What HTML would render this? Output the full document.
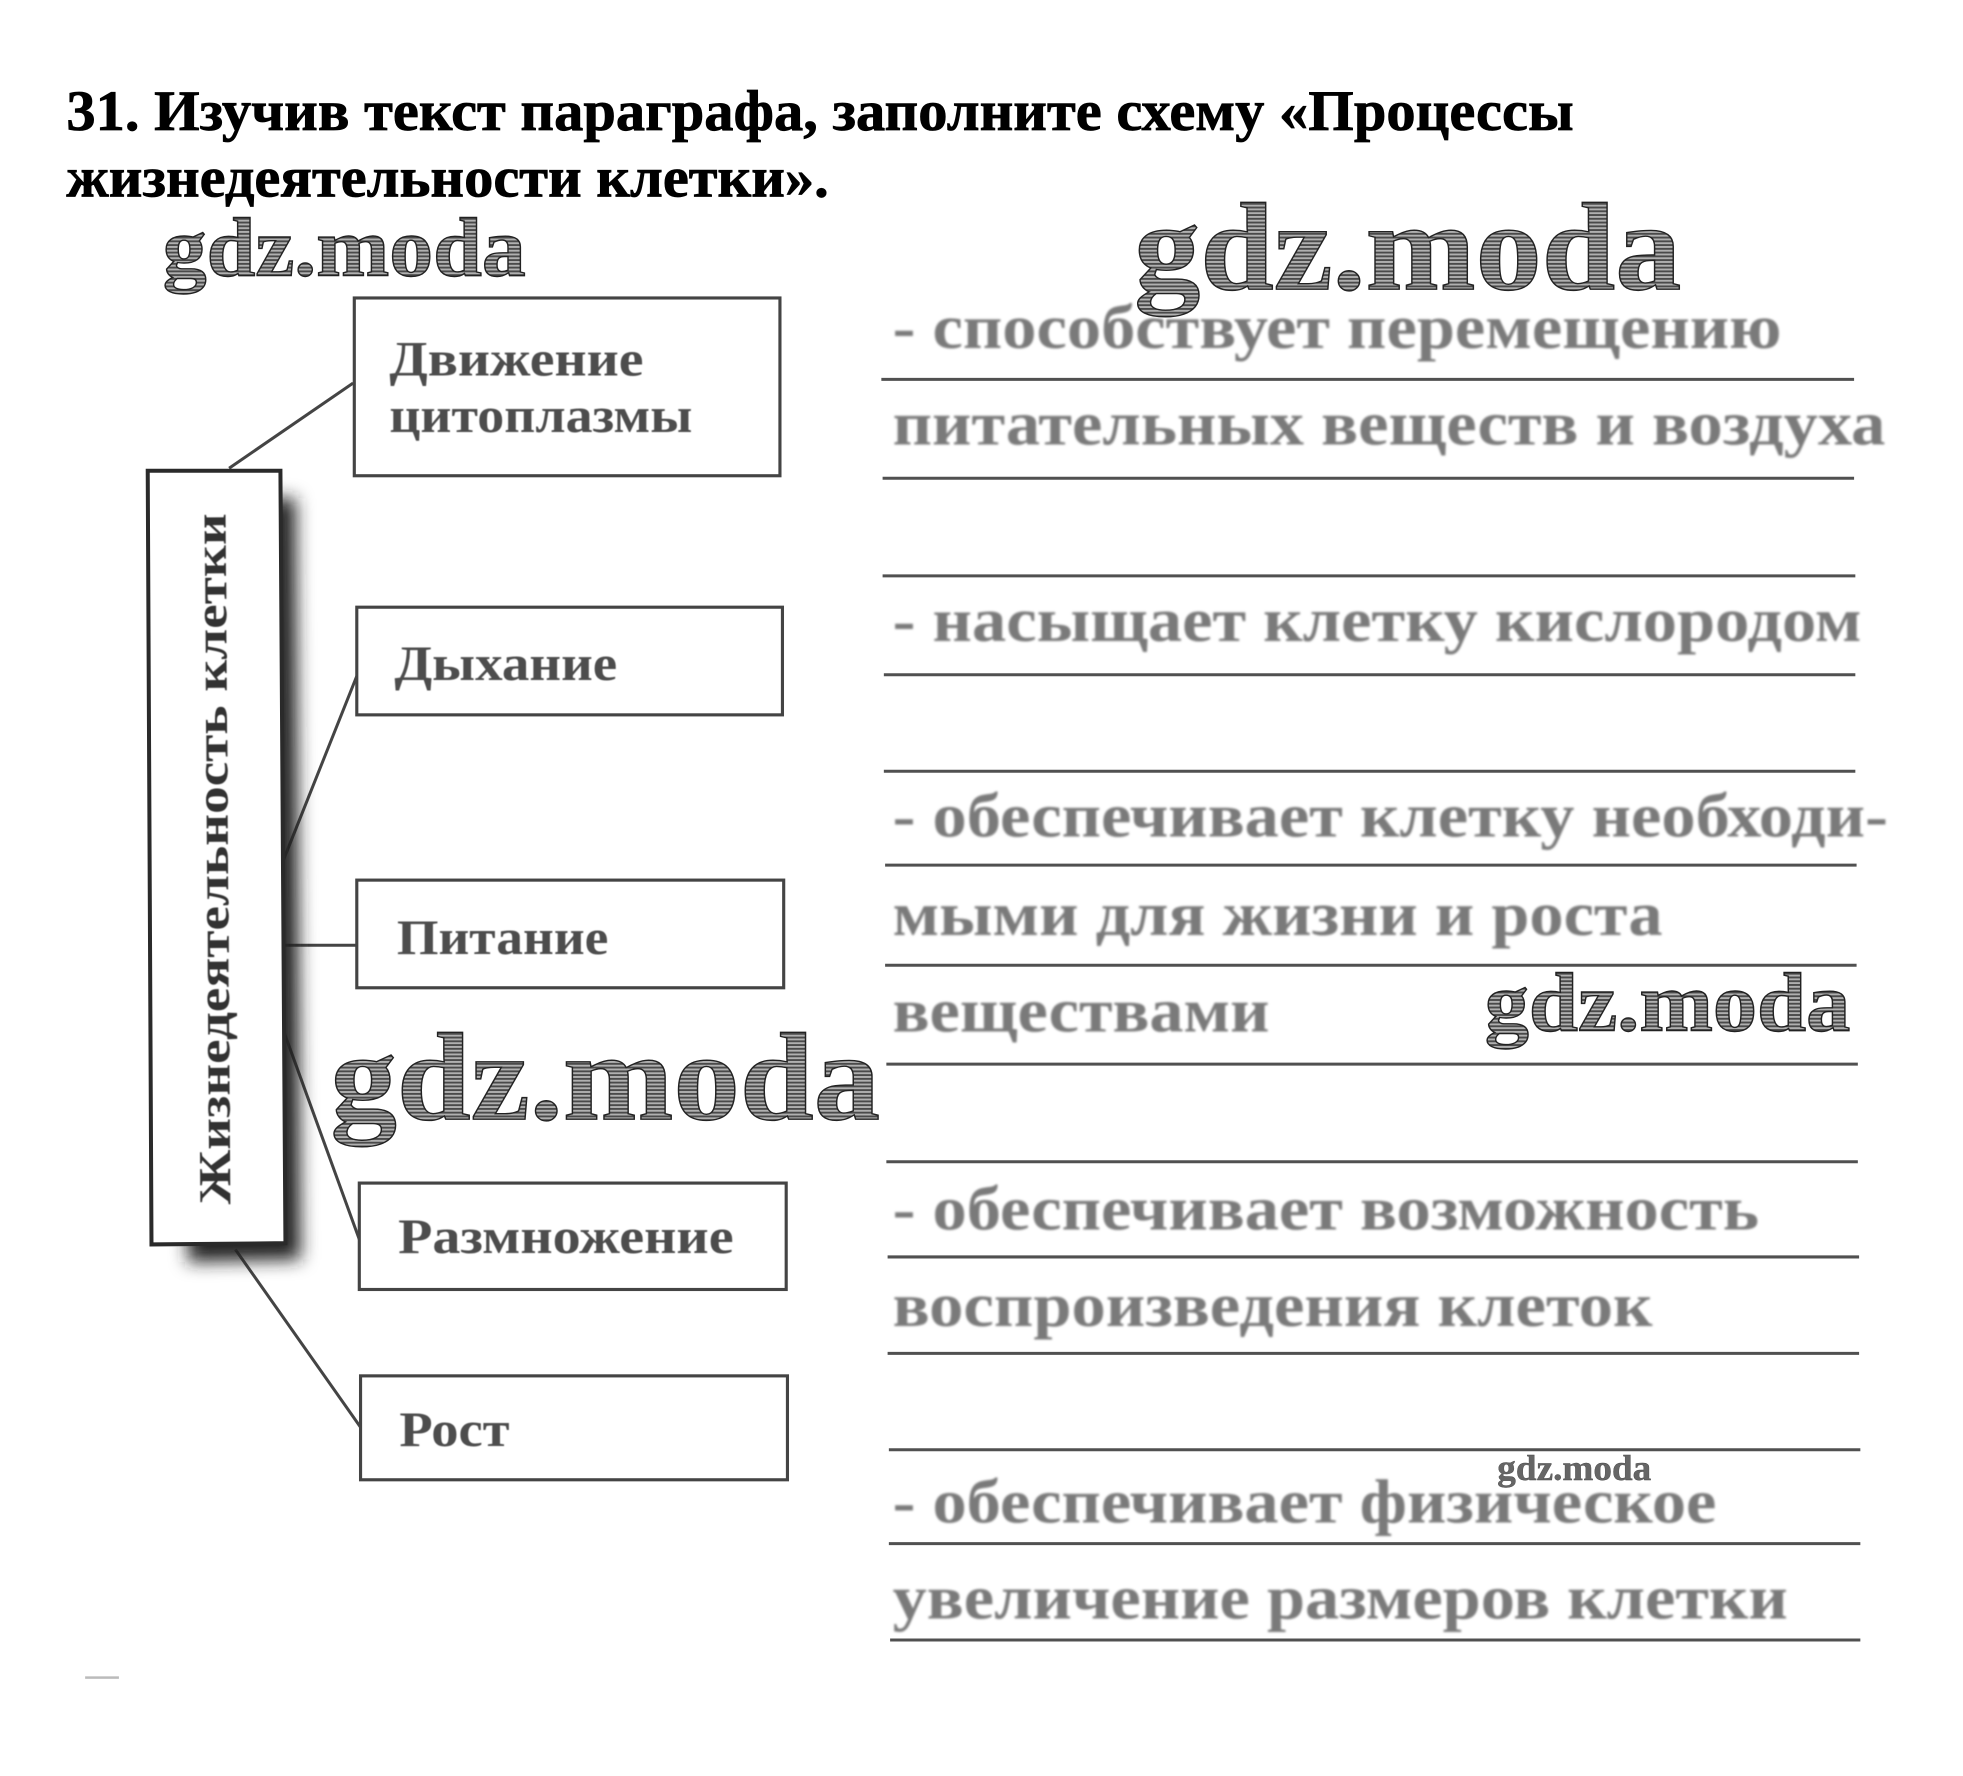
<!DOCTYPE html>
<html lang="ru">
<head>
<meta charset="utf-8">
<title>Процессы жизнедеятельности клетки</title>
<style>
html,body{margin:0;padding:0;background:#fff;width:1963px;height:1776px;overflow:hidden}
svg{display:block}
text{font-family:"Liberation Serif","DejaVu Serif",serif;font-weight:bold}
.t{fill:#000;stroke:#000;stroke-width:.6;font-size:46px}
.g{fill:#7a7a7a;font-size:50px}
.l{fill:#4d4d4d;font-size:40px}
.w{fill:url(#hatch);stroke:#222;stroke-width:1.1}
.rule{stroke:#505050;stroke-width:2.4}
.box{fill:#fff;stroke:#444;stroke-width:2.5}
.con{stroke:#444;stroke-width:2.4;fill:none}
</style>
</head>
<body>
<svg xmlns="http://www.w3.org/2000/svg" width="1963" height="1776" viewBox="0 0 1568 1418.6">
<defs>
<pattern id="hatch" width="4" height="3" patternUnits="userSpaceOnUse">
<rect width="4" height="3" fill="#b0b0b0"/>
<rect width="4" height="1.5" fill="#4a4a4a"/>
</pattern>
<filter id="b1" x="-5%" y="-20%" width="110%" height="140%"><feGaussianBlur stdDeviation="0.8"/></filter>
<filter id="b2" x="-5%" y="-20%" width="110%" height="140%"><feGaussianBlur stdDeviation="0.5"/></filter>
<filter id="sh" x="-50%" y="-10%" width="200%" height="120%"><feGaussianBlur stdDeviation="7"/></filter>
</defs>

<rect width="1568" height="1418.6" fill="#fff"/>

<!-- Title -->
<text class="t" x="53" y="104" textLength="1204" lengthAdjust="spacingAndGlyphs">31. Изучив текст параграфа, заполните схему «Процессы</text>
<text class="t" x="53" y="157" textLength="609" lengthAdjust="spacingAndGlyphs">жизнедеятельности клетки».</text>

<!-- Connectors -->
<g class="con">
<line x1="183" y1="374" x2="282" y2="306"/>
<line x1="226" y1="688" x2="285" y2="540"/>
<line x1="228" y1="755" x2="285" y2="755"/>
<line x1="226" y1="822" x2="287" y2="990"/>
<line x1="188" y1="998" x2="288" y2="1140"/>
</g>

<!-- Main box -->
<polygon points="150,398 236,398 240,1006 150,1008" fill="#222" filter="url(#sh)"/>
<polygon points="118,376 224,376 228,993 121,994" fill="#fff" stroke="#2a2a2a" stroke-width="3.2"/>
<text transform="translate(184,962) rotate(-90.4)" font-size="36" fill="#333" textLength="552" lengthAdjust="spacingAndGlyphs" filter="url(#b2)">Жизнедеятельность клетки</text>

<!-- Process boxes -->
<rect class="box" x="283" y="238" width="340" height="142"/>
<rect class="box" x="285" y="485" width="340" height="86"/>
<rect class="box" x="285" y="703" width="341" height="86"/>
<rect class="box" x="287" y="945" width="341" height="85"/>
<rect class="box" x="288" y="1099" width="341" height="83"/>

<g filter="url(#b2)">
<text class="l" x="311" y="300" textLength="203" lengthAdjust="spacingAndGlyphs">Движение</text>
<text class="l" x="311" y="345" textLength="242" lengthAdjust="spacingAndGlyphs">цитоплазмы</text>
<text class="l" x="315" y="543" textLength="178" lengthAdjust="spacingAndGlyphs">Дыхание</text>
<text class="l" x="317" y="762" textLength="169" lengthAdjust="spacingAndGlyphs">Питание</text>
<text class="l" x="318" y="1001" textLength="268" lengthAdjust="spacingAndGlyphs">Размножение</text>
<text class="l" x="319" y="1155" textLength="88" lengthAdjust="spacingAndGlyphs">Рост</text>
</g>

<!-- Rules -->
<g class="rule">
<line x1="704" y1="303" x2="1481" y2="303"/>
<line x1="705" y1="382" x2="1481" y2="382"/>
<line x1="705" y1="460" x2="1482" y2="460"/>
<line x1="706" y1="539" x2="1482" y2="539"/>
<line x1="706" y1="616" x2="1482" y2="616"/>
<line x1="707" y1="691" x2="1483" y2="691"/>
<line x1="707" y1="771" x2="1483" y2="771"/>
<line x1="708" y1="850" x2="1484" y2="850"/>
<line x1="708" y1="928" x2="1484" y2="928"/>
<line x1="709" y1="1004" x2="1485" y2="1004"/>
<line x1="709" y1="1081" x2="1485" y2="1081"/>
<line x1="710" y1="1158" x2="1486" y2="1158"/>
<line x1="710" y1="1233" x2="1486" y2="1233"/>
<line x1="711" y1="1310" x2="1486" y2="1310"/>
</g>

<!-- Answers -->
<g filter="url(#b1)">
<text class="g" x="713" y="278" textLength="710" lengthAdjust="spacingAndGlyphs">- способствует перемещению</text>
<text class="g" x="713" y="355" textLength="793" lengthAdjust="spacingAndGlyphs">питательных веществ и воздуха</text>
<text class="g" x="713" y="512" textLength="774" lengthAdjust="spacingAndGlyphs">- насыщает клетку кислородом</text>
<text class="g" x="713" y="668" textLength="795" lengthAdjust="spacingAndGlyphs">- обеспечивает клетку необходи-</text>
<text class="g" x="713" y="747" textLength="615" lengthAdjust="spacingAndGlyphs">мыми для жизни и роста</text>
<text class="g" x="713" y="824" textLength="301" lengthAdjust="spacingAndGlyphs">веществами</text>
<text class="g" x="713" y="982" textLength="692" lengthAdjust="spacingAndGlyphs">- обеспечивает возможность</text>
<text class="g" x="713" y="1059" textLength="607" lengthAdjust="spacingAndGlyphs">воспроизведения клеток</text>
<text class="g" x="713" y="1216" textLength="658" lengthAdjust="spacingAndGlyphs">- обеспечивает физическое</text>
<text class="g" x="713" y="1293" textLength="715" lengthAdjust="spacingAndGlyphs">увеличение размеров клетки</text>
</g>

<!-- Watermarks -->
<text class="w" x="130" y="220" font-size="67" textLength="290" lengthAdjust="spacingAndGlyphs">gdz.moda</text>
<text class="w" x="906" y="231" font-size="100" textLength="437" lengthAdjust="spacingAndGlyphs">gdz.moda</text>
<text class="w" x="264" y="894" font-size="100" textLength="439" lengthAdjust="spacingAndGlyphs">gdz.moda</text>
<text class="w" x="1186" y="823" font-size="67" textLength="292" lengthAdjust="spacingAndGlyphs">gdz.moda</text>
<text x="1196" y="1182" font-size="29" textLength="123" lengthAdjust="spacingAndGlyphs" fill="#666" stroke="#444" stroke-width=".3">gdz.moda</text>

<!-- Speck -->
<rect x="68" y="1339" width="27" height="2" fill="#bbb"/>
</svg>
</body>
</html>
